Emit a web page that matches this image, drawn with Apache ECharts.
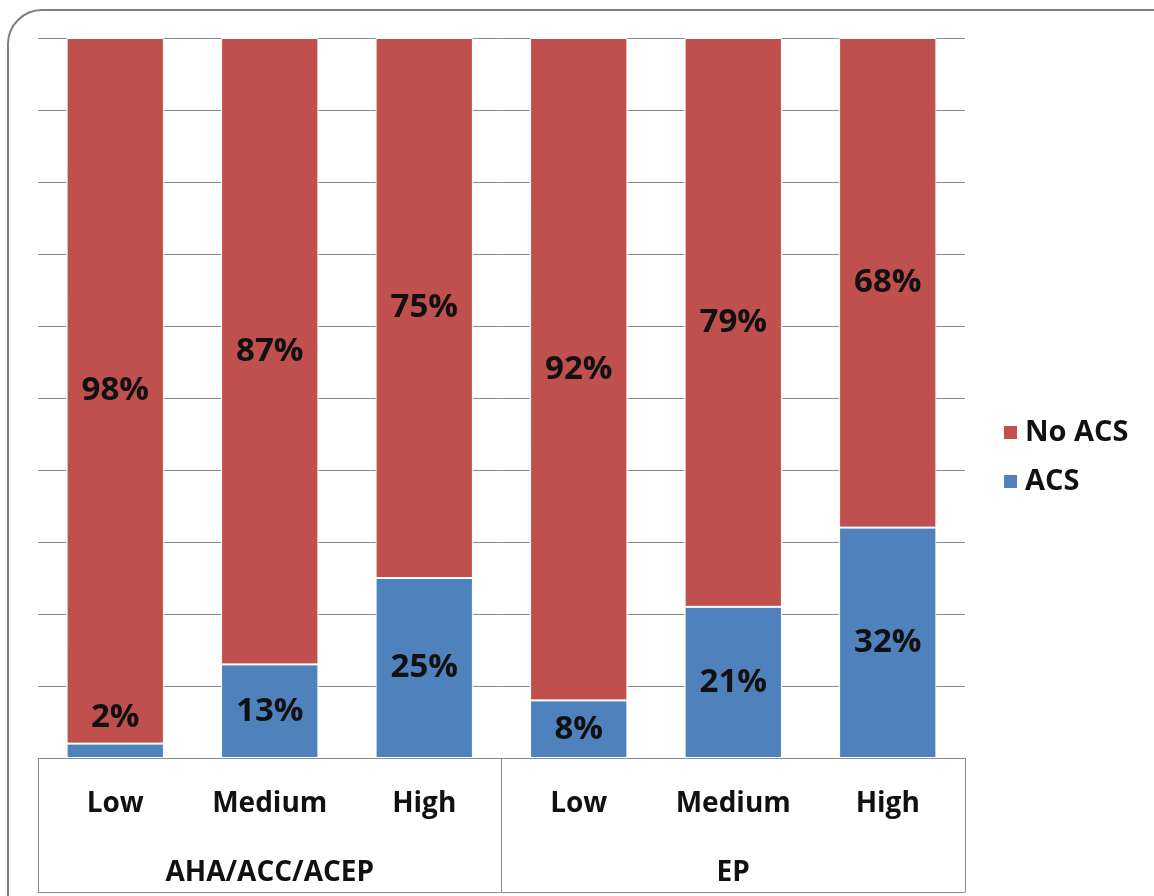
<!DOCTYPE html>
<html>
<head>
<meta charset="utf-8">
<script src="https://cdn.jsdelivr.net/npm/echarts@6/dist/echarts.min.js"></script>
<style>html,body{margin:0;padding:0;background:#fff}#c{width:1154px;height:896px}</style>
</head>
<body>
<div id="c"></div>
<script>
var categories = ['Low', 'Medium', 'High', 'Low', 'Medium', 'High'];
var groups = ['AHA/ACC/ACEP', 'EP'];
var acs = [2, 13, 25, 8, 21, 32];
var noAcs = [98, 87, 75, 92, 79, 68];

var FONT = 'Open Sans';
var chart = echarts.init(document.getElementById('c'));
var lineColor = '#8c8c8c';
var labelStyle = {
  show: true, position: 'inside', formatter: '{c}%',
  fontFamily: FONT, fontWeight: 'bold', fontSize: 33, color: '#111'
};
chart.setOption({
  animation: false,
  backgroundColor: '#fff',
  graphic: [{
    type: 'rect', shape: { x: 8, y: 10, width: 1190, height: 930, r: 34 },
    style: { fill: 'none', stroke: '#7f7f7f', lineWidth: 2 }, z: -1
  }],
  legend: {
    orient: 'vertical', left: 997, top: 413, itemWidth: 15, itemHeight: 15, itemGap: 20,
    icon: 'rect',
    data: ['No ACS', 'ACS'],
    textStyle: { fontFamily: FONT, fontWeight: 'bold', fontSize: 29, color: '#111', padding: [0, 0, 0, 2] }
  },
  grid: { left: 38, right: 189, top: 38, bottom: 138, containLabel: false },
  xAxis: [{
    type: 'category', data: categories, position: 'bottom',
    axisLine: { show: true, lineStyle: { color: lineColor, width: 1 } },
    axisTick: { show: false },
    axisLabel: { interval: 0, margin: 32, fontFamily: FONT, fontWeight: 'bold', fontSize: 28, color: '#111' }
  }, {
    type: 'category', data: groups, position: 'bottom',
    axisLine: { show: false },
    axisTick: { show: true, length: 134, lineStyle: { color: lineColor, width: 1 } },
    axisLabel: { interval: 0, margin: 101, fontFamily: FONT, fontWeight: 'bold', fontSize: 28, color: '#111' }
  }, {
    type: 'category', data: groups, position: 'bottom', offset: 134,
    axisLine: { show: true, lineStyle: { color: lineColor, width: 1 } },
    axisTick: { show: false }, axisLabel: { show: false }
  }],
  yAxis: {
    type: 'value', min: 0, max: 100, interval: 10,
    axisLine: { show: false }, axisTick: { show: false }, axisLabel: { show: false },
    splitLine: { show: true, lineStyle: { color: lineColor, width: 1 } }
  },
  series: [{
    name: 'ACS', type: 'bar', stack: 'total', barWidth: '63%',
    itemStyle: { color: '#4F81BD', borderColor: '#fff', borderWidth: 1 },
    label: labelStyle,
    data: acs.map(function (v) {
      return v < 5 ? { value: v, label: { position: 'top', distance: 10 } } : v;
    })
  }, {
    name: 'No ACS', type: 'bar', stack: 'total', barWidth: '63%',
    itemStyle: { color: '#C0504D', borderColor: '#fff', borderWidth: 1 },
    label: labelStyle,
    data: noAcs
  }]
});
</script>
</body>
</html>
